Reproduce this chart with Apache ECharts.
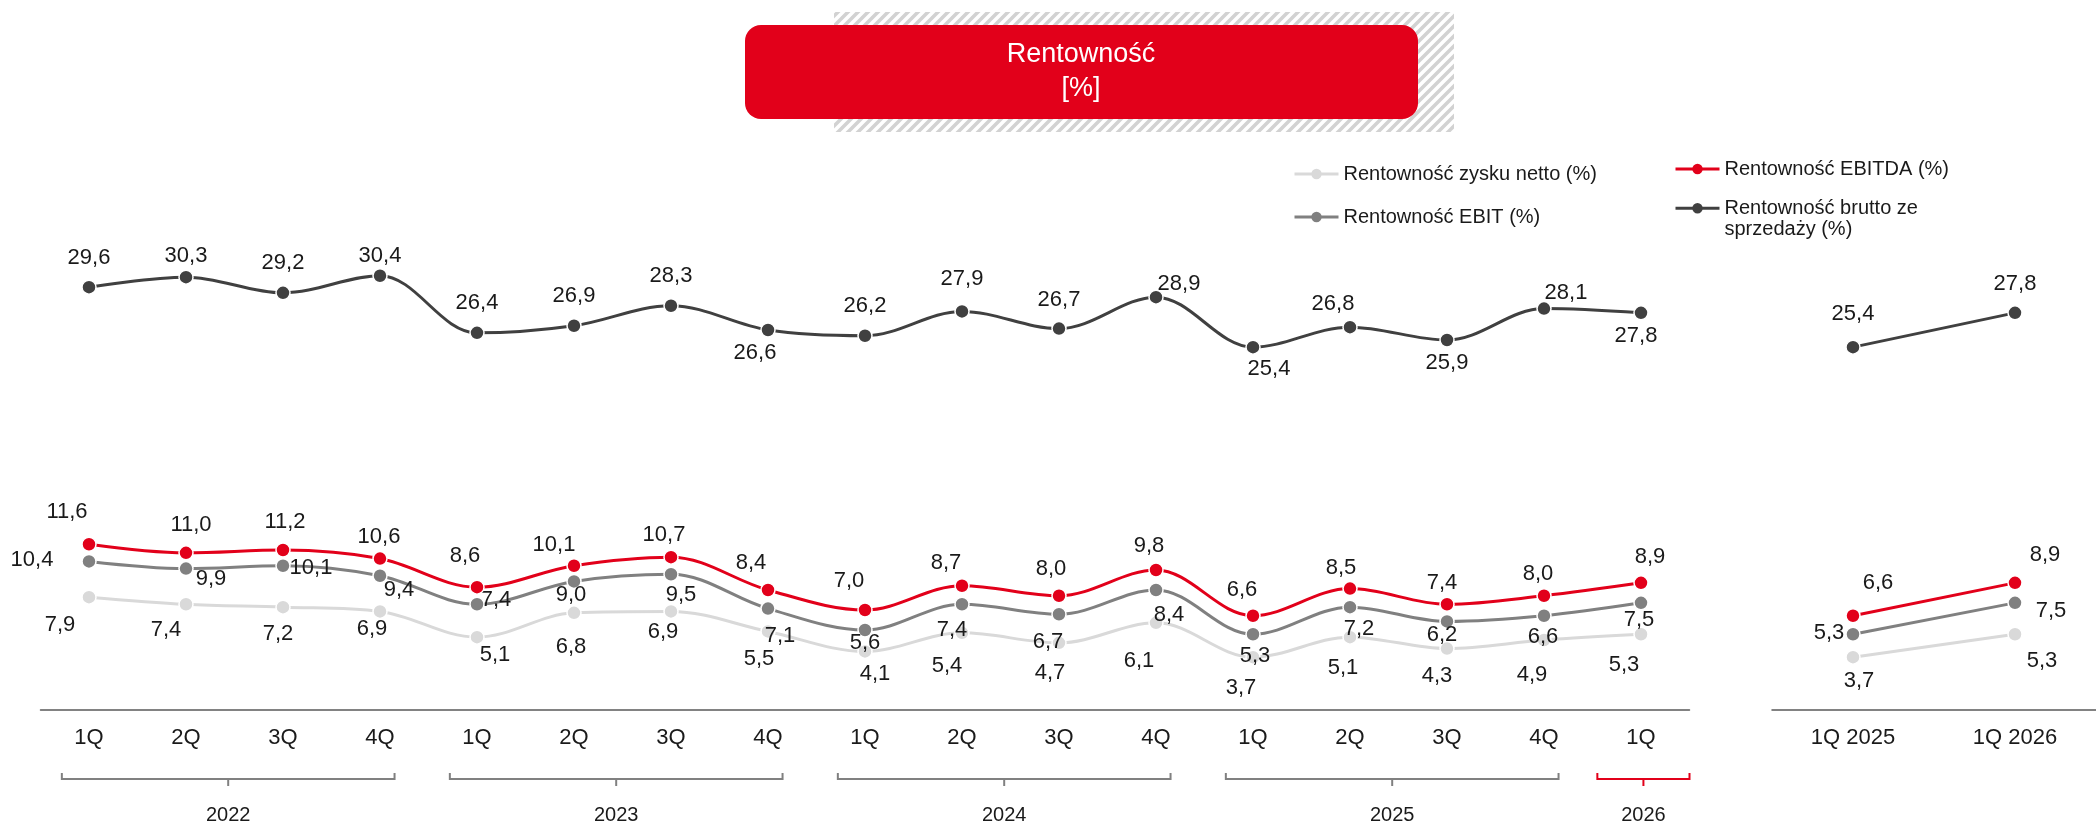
<!DOCTYPE html>
<html>
<head>
<meta charset="utf-8">
<script src="https://cdn.jsdelivr.net/npm/echarts@6/dist/echarts.min.js"></script>
<style>
  html, body { margin: 0; padding: 0; background: #fff; }
  #chart { width: 2096px; height: 826px; }
</style>
</head>
<body>
<div id="chart"></div>
<script>
  // ---------------- data ----------------
  const quarters = ['1Q', '2Q', '3Q', '4Q', '1Q', '2Q', '3Q', '4Q', '1Q', '2Q', '3Q', '4Q', '1Q', '2Q', '3Q', '4Q', '1Q'];
  const years = ['2022', '2023', '2024', '2025', '2026'];
  const quartersInYear = [4, 4, 4, 4, 1];
  const compareCats = ['1Q 2025', '1Q 2026'];

  const brutto = [29.6, 30.3, 29.2, 30.4, 26.4, 26.9, 28.3, 26.6, 26.2, 27.9, 26.7, 28.9, 25.4, 26.8, 25.9, 28.1, 27.8];
  const ebitda = [11.6, 11.0, 11.2, 10.6, 8.6, 10.1, 10.7, 8.4, 7.0, 8.7, 8.0, 9.8, 6.6, 8.5, 7.4, 8.0, 8.9];
  const ebit = [10.4, 9.9, 10.1, 9.4, 7.4, 9.0, 9.5, 7.1, 5.6, 7.4, 6.7, 8.4, 5.3, 7.2, 6.2, 6.6, 7.5];
  const netto = [7.9, 7.4, 7.2, 6.9, 5.1, 6.8, 6.9, 5.5, 4.1, 5.4, 4.7, 6.1, 3.7, 5.1, 4.3, 4.9, 5.3];

  const bruttoCmp = [25.4, 27.8];
  const ebitdaCmp = [6.6, 8.9];
  const ebitCmp = [5.3, 7.5];
  const nettoCmp = [3.7, 5.3];

  const NAME_NETTO = 'Rentowność zysku netto (%)';
  const NAME_EBIT = 'Rentowność EBIT (%)';
  const NAME_EBITDA = 'Rentowność EBITDA (%)';
  const NAME_BRUTTO = 'Rentowność brutto ze sprzedaży (%)';

  // label placement (px offset from the point), hand placed like the slide
  const bruttoLbl = [[0, -29], [0, -21], [0, -30], [0, -20], [0, -30], [0, -30], [0, -30], [-13, 23], [0, -30],
    [0, -32], [0, -29], [23, -13], [16, 22], [-17, -23], [0, 23], [22, -16], [-5, 23]];
  const ebitdaLbl = [[-22, -32], [5, -28], [2, -28], [-1, -22], [-12, -31], [-20, -21], [-7, -22], [-17, -27], [-16, -29],
    [-16, -23], [-8, -27], [-7, -24], [-11, -26], [-9, -21], [-5, -21], [-6, -22], [9, -26]];
  const ebitLbl = [[-57, -1], [25, 10], [28, 2], [19, 14], [19, -4], [-3, 14], [10, 21], [12, 27], [0, 13],
    [-10, 26], [-11, 28], [13, 25], [2, 22], [9, 22], [-5, 14], [-1, 21], [-2, 17]];
  const nettoLbl = [[-29, 28], [-20, 26], [-5, 27], [-8, 18], [18, 18], [-3, 34], [-8, 21], [-9, 28], [10, 23],
    [-15, 33], [-9, 30], [-17, 38], [-12, 31], [-7, 31], [-10, 27], [-12, 35], [-17, 31]];
  const bruttoCmpLbl = [[0, -33], [0, -29]];
  const ebitdaCmpLbl = [[25, -33], [30, -28]];
  const ebitCmpLbl = [[-24, -1], [36, 8]];
  const nettoCmpLbl = [[6, 24], [27, 27]];

  // ---------------- chart ----------------
  const FONT = '"Liberation Sans", Arial, sans-serif';
  const TEXT = '#1a1a1a';
  const RED = '#e2001a';
  const chart = echarts.init(document.getElementById('chart'));

  const fmt = v => v.toFixed(1).replace('.', ',');

  const lineSeries = (name, values, offsets, color, panel, z) => ({
    name,
    type: 'line',
    xAxisIndex: panel,
    yAxisIndex: panel,
    smooth: panel === 0 ? 0.35 : false,
    symbol: 'circle',
    symbolSize: 14,
    z,
    lineStyle: { color, width: 3 },
    itemStyle: { color, borderColor: '#fff', borderWidth: 1.5 },
    emphasis: { disabled: true },
    label: {
      show: true,
      position: 'inside',
      color: TEXT,
      fontSize: 22,
      fontFamily: FONT,
      formatter: p => fmt(p.value)
    },
    data: values.map((v, i) => ({ value: v, label: { offset: offsets[i] } }))
  });

  // hatched background behind the title
  const hatch = document.createElement('canvas');
  hatch.width = 10;
  hatch.height = 10;
  const hctx = hatch.getContext('2d');
  hctx.strokeStyle = '#d2d2d2';
  hctx.lineWidth = 3.5;
  hctx.beginPath();
  hctx.moveTo(-1, 11); hctx.lineTo(11, -1);
  hctx.moveTo(-6, 6); hctx.lineTo(6, -6);
  hctx.moveTo(4, 16); hctx.lineTo(16, 4);
  hctx.stroke();

  const legendBase = {
    orient: 'horizontal',
    padding: 0,
    itemWidth: 44,
    itemHeight: 13,
    selectedMode: false,
    lineStyle: { width: 3 },
    itemStyle: { borderWidth: 0 },
    textStyle: { fontSize: 20, fontFamily: FONT, color: TEXT, lineHeight: 22 }
  };

  const xAxisBase = {
    type: 'category',
    axisTick: { show: false },
    axisLine: { lineStyle: { color: '#595959', width: 1.5 } },
    axisLabel: { fontSize: 22, fontFamily: FONT, color: TEXT, margin: 17 }
  };
  const yAxisBase = { type: 'value', min: 0, max: 35, show: false };

  chart.setOption({
    animation: false,
    backgroundColor: '#fff',
    grid: [
      { left: 40.5, width: 1649, top: 210, height: 500 },
      { left: 1772, width: 334.6, top: 210, height: 500 }
    ],
    xAxis: [
      { ...xAxisBase, gridIndex: 0, data: quarters },
      { ...xAxisBase, gridIndex: 1, data: compareCats }
    ],
    yAxis: [
      { ...yAxisBase, gridIndex: 0 },
      { ...yAxisBase, gridIndex: 1 }
    ],
    legend: [
      { ...legendBase, data: [NAME_NETTO], left: 1293, top: 163 },
      { ...legendBase, data: [NAME_EBIT], left: 1293, top: 206 },
      { ...legendBase, data: [NAME_EBITDA], left: 1674, top: 158 },
      {
        ...legendBase,
        data: [NAME_BRUTTO],
        left: 1674,
        top: 176,
        // blank first line keeps the icon level with "Rentowność brutto ze"
        formatter: () => ' \nRentowność brutto ze\nsprzedaży (%)',
        textStyle: { ...legendBase.textStyle, lineHeight: 21.5 }
      }
    ],
    series: [
      lineSeries(NAME_NETTO, netto, nettoLbl, '#d9d9d9', 0, 2),
      lineSeries(NAME_EBIT, ebit, ebitLbl, '#808080', 0, 3),
      lineSeries(NAME_EBITDA, ebitda, ebitdaLbl, RED, 0, 4),
      lineSeries(NAME_BRUTTO, brutto, bruttoLbl, '#404040', 0, 5),
      lineSeries(NAME_NETTO, nettoCmp, nettoCmpLbl, '#d9d9d9', 1, 2),
      lineSeries(NAME_EBIT, ebitCmp, ebitCmpLbl, '#808080', 1, 3),
      lineSeries(NAME_EBITDA, ebitdaCmp, ebitdaCmpLbl, RED, 1, 4),
      lineSeries(NAME_BRUTTO, bruttoCmp, bruttoCmpLbl, '#404040', 1, 5)
    ]
  });

  // year brackets under the quarter labels, placed from the axis
  const xAt = i => chart.convertToPixel({ xAxisIndex: 0 }, i);
  const baseY = chart.convertToPixel({ yAxisIndex: 0 }, 0);
  const band = xAt(1) - xAt(0);
  const graphics = [];
  let start = 0;
  years.forEach((year, k) => {
    const n = quartersInYear[k];
    const isLast = k === years.length - 1;
    const color = isLast ? RED : '#808080';
    const x1 = xAt(start) - (isLast ? 0.45 : 0.28) * band;
    const x2 = xAt(start + n - 1) + (isLast ? 0.5 : 0.15) * band;
    const xc = (x1 + x2) / 2;
    const yb = baseY + 69;
    graphics.push({
      type: 'polyline',
      shape: { points: [[x1, yb - 6], [x1, yb], [x2, yb], [x2, yb - 6]] },
      style: { stroke: color, lineWidth: 2, fill: null }
    });
    graphics.push({
      type: 'line',
      shape: { x1: xc, y1: yb, x2: xc, y2: yb + 7 },
      style: { stroke: color, lineWidth: 2 }
    });
    graphics.push({
      type: 'text',
      x: xc,
      y: baseY + 105,
      style: { text: year, fill: TEXT, font: '20px ' + FONT, textAlign: 'center', textVerticalAlign: 'middle' }
    });
    start += n;
  });

  // title box
  graphics.push({
    type: 'rect',
    shape: { x: 834, y: 12, width: 620, height: 120 },
    style: { fill: { image: hatch, repeat: 'repeat' } },
    z: 0
  });
  graphics.push({
    type: 'rect',
    shape: { x: 745, y: 25, width: 673, height: 94, r: 16 },
    style: { fill: RED },
    z: 1
  });
  graphics.push({
    type: 'text',
    x: 1081,
    y: 72,
    z: 2,
    style: {
      text: 'Rentowność\n[%]',
      fill: '#fff',
      font: '27px ' + FONT,
      lineHeight: 34,
      textAlign: 'center',
      textVerticalAlign: 'middle'
    }
  });

  chart.setOption({ graphic: graphics });
</script>
</body>
</html>
